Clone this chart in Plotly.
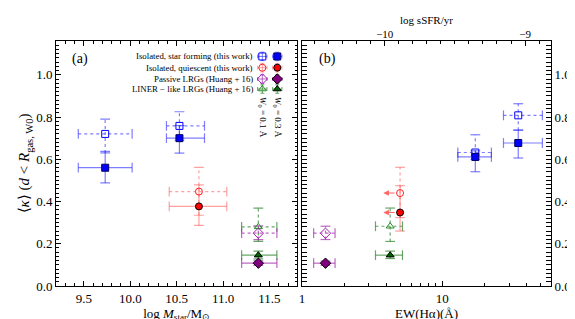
import numpy as np
import plotly.graph_objects as go

# ---------------- data ----------------
# Panel (a): log Mstar
sf_mass = [9.73, 10.53]
sf_mass_lo = [9.44, 10.39]
sf_mass_hi = [10.02, 10.80]
sf_k01 = [0.72, 0.758]
sf_k01_lo = [0.63, 0.69]
sf_k01_hi = [0.79, 0.825]
sf_k03 = [0.56, 0.70]
sf_k03_lo = [0.488, 0.629]
sf_k03_hi = [0.637, 0.76]

q_mass = [10.74]
q_mass_lo = [10.42]
q_mass_hi = [11.04]
q_k01 = [0.447]
q_k01_lo = [0.335]
q_k01_hi = [0.562]
q_k03 = [0.377]
q_k03_lo = [0.287]
q_k03_hi = [0.479]

pas_mass = [11.38]
pas_mass_lo = [11.20]
pas_mass_hi = [11.58]
pas_k01 = [0.25]
pas_k01_lo = [0.22]
pas_k01_hi = [0.285]
pas_k03 = [0.108]
pas_k03_lo = [0.097]
pas_k03_hi = [0.119]

lin_mass = [11.38]
lin_mass_lo = [11.20]
lin_mass_hi = [11.58]
lin_k01 = [0.28]
lin_k01_lo = [0.211]
lin_k01_hi = [0.369]
lin_k03 = [0.146]
lin_k03_lo = [0.128]
lin_k03_hi = [0.165]

# Panel (b): EW(Halpha)
sf_ew = [17.2, 34.8]
sf_ew_lo = [12.9, 27.3]
sf_ew_hi = [22.4, 51.7]
sf_k01b = [0.632, 0.808]
sf_k01b_lo = [0.60, 0.738]
sf_k01b_hi = [0.716, 0.863]
sf_k03b = [0.611, 0.677]
sf_k03b_lo = [0.541, 0.606]
sf_k03b_hi = [0.64, 0.738]

q_ew = [5.0]
q_ew_limit = [3.8]
q_k01b = [0.44]
q_k01b_lo = [0.324]
q_k01b_hi = [0.562]
q_k03b = [0.348]
q_k03b_lo = [0.26]
q_k03b_hi = [0.475]

pas_ew = [1.47]
pas_ew_lo = [1.21]
pas_ew_hi = [1.72]
pas_k01b = [0.25]
pas_k01b_lo = [0.22]
pas_k01b_hi = [0.283]
pas_k03b = [0.108]
pas_k03b_lo = [0.098]
pas_k03b_hi = [0.118]

lin_ew = [4.25]
lin_ew_lo = [3.34]
lin_ew_hi = [5.2]
lin_k01b = [0.283]
lin_k01b_lo = [0.211]
lin_k01b_hi = [0.369]
lin_k03b = [0.146]
lin_k03b_lo = [0.13]
lin_k03b_hi = [0.165]

legend_labels = ["Isolated, star forming (this work)",
                 "Isolated, quiescent (this work)",
                 "Passive LRGs (Huang + 16)",
                 "LINER − like LRGs (Huang + 16)"]

FONT = "Liberation Serif"
BLUE_E = "rgba(40,40,255,0.6)"
RED_E = "rgba(255,70,70,0.5)"
GRN_E = "rgba(40,130,40,0.7)"
PUR_E = "rgba(160,40,170,0.7)"

XA_RANGE = [9.2, 11.8]
Y_RANGE = [0, 1.16]

fig = go.Figure()


def errbars(x, y, xlo, xhi, ylo, yhi, xa, ya, color, dash):
    if xlo is not None:
        xs, ys = [], []
        for i in range(len(x)):
            xs += [xlo[i], xhi[i], None]
            ys += [y[i], y[i], None]
        fig.add_trace(go.Scatter(x=xs, y=ys, mode="lines", xaxis=xa, yaxis=ya,
                                 line=dict(color=color, width=1.2, dash=dash),
                                 showlegend=False, hoverinfo="skip"))
        fig.add_trace(go.Scatter(x=list(xlo) + list(xhi), y=list(y) + list(y), mode="markers",
                                 xaxis=xa, yaxis=ya,
                                 marker=dict(symbol="line-ns", size=7, color=color,
                                             line=dict(color=color, width=1.2)),
                                 showlegend=False, hoverinfo="skip"))
    xs, ys = [], []
    for i in range(len(x)):
        xs += [x[i], x[i], None]
        ys += [ylo[i], yhi[i], None]
    fig.add_trace(go.Scatter(x=xs, y=ys, mode="lines", xaxis=xa, yaxis=ya,
                             line=dict(color=color, width=1.2, dash=dash),
                             showlegend=False, hoverinfo="skip"))
    fig.add_trace(go.Scatter(x=list(x) + list(x), y=list(ylo) + list(yhi), mode="markers",
                             xaxis=xa, yaxis=ya,
                             marker=dict(symbol="line-ew", size=7, color=color,
                                         line=dict(color=color, width=1.2)),
                             showlegend=False, hoverinfo="skip"))


def pts(x, y, xa, ya, symbol, size, fill, edge):
    fig.add_trace(go.Scatter(x=x, y=y, mode="markers", xaxis=xa, yaxis=ya,
                             marker=dict(symbol=symbol, size=size, color=fill,
                                         line=dict(color=edge, width=1)),
                             showlegend=False, hoverinfo="skip"))


# ---- panel (a) ----
groups_a = [
    (sf_mass, sf_mass_lo, sf_mass_hi, sf_k01, sf_k01_lo, sf_k01_hi, sf_k03, sf_k03_lo, sf_k03_hi,
     BLUE_E, "square", "#0000ff", "#000060", 7),
    (q_mass, q_mass_lo, q_mass_hi, q_k01, q_k01_lo, q_k01_hi, q_k03, q_k03_lo, q_k03_hi,
     RED_E, "circle", "#ff0000", "#000000", 7),
    (lin_mass, lin_mass_lo, lin_mass_hi, lin_k01, lin_k01_lo, lin_k01_hi, lin_k03, lin_k03_lo, lin_k03_hi,
     GRN_E, "triangle-up", "#006400", "#000000", 7),
    (pas_mass, pas_mass_lo, pas_mass_hi, pas_k01, pas_k01_lo, pas_k01_hi, pas_k03, pas_k03_lo, pas_k03_hi,
     PUR_E, "diamond", "#800080", "#000000", 8),
]
open_cols = {"square": "#0000ff", "circle": "#ff2020", "triangle-up": "#2a8a2a", "diamond": "#a020b0"}
for (x, xl, xh, k1, k1l, k1h, k3, k3l, k3h, ec, sym, fill, edge, sz) in groups_a:
    errbars(x, k1, xl, xh, k1l, k1h, "x", "y", ec, "dot")
    errbars(x, k3, xl, xh, k3l, k3h, "x", "y", ec, "solid")
for (x, xl, xh, k1, k1l, k1h, k3, k3l, k3h, ec, sym, fill, edge, sz) in groups_a:
    pts(x, k1, "x", "y", sym + "-open", sz, open_cols[sym], open_cols[sym])
    pts(x, k3, "x", "y", sym, sz, fill, edge)

# ---- panel (b) ----
groups_b = [
    (sf_ew, sf_ew_lo, sf_ew_hi, sf_k01b, sf_k01b_lo, sf_k01b_hi, sf_k03b, sf_k03b_lo, sf_k03b_hi,
     BLUE_E, "square", "#0000ff", "#000060", 7),
    (q_ew, None, None, q_k01b, q_k01b_lo, q_k01b_hi, q_k03b, q_k03b_lo, q_k03b_hi,
     RED_E, "circle", "#ff0000", "#000000", 7),
    (lin_ew, lin_ew_lo, lin_ew_hi, lin_k01b, lin_k01b_lo, lin_k01b_hi, lin_k03b, lin_k03b_lo, lin_k03b_hi,
     GRN_E, "triangle-up", "#006400", "#000000", 7),
    (pas_ew, pas_ew_lo, pas_ew_hi, pas_k01b, pas_k01b_lo, pas_k01b_hi, pas_k03b, pas_k03b_lo, pas_k03b_hi,
     PUR_E, "diamond", "#800080", "#000000", 8),
]
for (x, xl, xh, k1, k1l, k1h, k3, k3l, k3h, ec, sym, fill, edge, sz) in groups_b:
    errbars(x, k1, xl, xh, k1l, k1h, "x2", "y2", ec, "dot")
    errbars(x, k3, xl, xh, k3l, k3h, "x2", "y2", ec, "solid")
for (x, xl, xh, k1, k1l, k1h, k3, k3l, k3h, ec, sym, fill, edge, sz) in groups_b:
    pts(x, k1, "x2", "y2", sym + "-open", sz, open_cols[sym], open_cols[sym])
    pts(x, k3, "x2", "y2", sym, sz, fill, edge)

annotations = []
# upper-limit arrows for quiescent EW
for i in range(len(q_ew)):
    for yy in (q_k01b[i], q_k03b[i]):
        annotations.append(dict(x=np.log10(q_ew_limit[i]), y=yy, xref="x2", yref="y2",
                                ax=np.log10(q_ew[i]), ay=yy, axref="x2", ayref="y2",
                                text="", showarrow=True, arrowhead=2, arrowsize=1.0,
                                arrowwidth=1.1, arrowcolor="rgba(255,50,50,0.75)",
                                standoff=0, startstandoff=4))

# ---- legend: positions given as fractions of panel (a), mapped through its ranges ----
def fx(f):
    return XA_RANGE[0] + f * (XA_RANGE[1] - XA_RANGE[0])


def fy(f):
    return Y_RANGE[0] + f * (Y_RANGE[1] - Y_RANGE[0])


leg_x_open = 0.855
leg_x_fill = 0.917
leg_y = [0.937, 0.891, 0.845, 0.804]
leg_sym = ["square", "circle", "diamond", "triangle-up"]
leg_fill = ["#0000ff", "#ff0000", "#800080", "#006400"]
leg_edge = ["#000060", "#000000", "#000000", "#000000"]
leg_ecol = [BLUE_E, RED_E, PUR_E, GRN_E]
leg_open = ["#0000ff", "#ff2020", "#a020b0", "#2a8a2a"]
for i in range(4):
    for xx, filled in ((leg_x_open, False), (leg_x_fill, True)):
        fig.add_trace(go.Scatter(
            x=[fx(xx)], y=[fy(leg_y[i])], mode="markers", xaxis="x", yaxis="y",
            error_x=dict(type="constant", value=0.05, color=leg_ecol[i], thickness=1, width=2),
            error_y=dict(type="constant", value=0.02, color=leg_ecol[i], thickness=1, width=2),
            marker=dict(symbol=leg_sym[i] if filled else leg_sym[i] + "-open",
                        size=8 if leg_sym[i] == "diamond" else 7,
                        color=leg_fill[i] if filled else leg_open[i],
                        line=dict(color=leg_edge[i] if filled else leg_open[i], width=1)),
            showlegend=False, hoverinfo="skip"))
    annotations.append(dict(x=0.826, y=leg_y[i], xref="x domain", yref="y domain", text=legend_labels[i],
                            showarrow=False, xanchor="right", yanchor="middle",
                            font=dict(family=FONT, size=8.8, color="black")))

annotations.append(dict(x=leg_x_open, y=0.78, xref="x domain", yref="y domain",
                        text="<i>W</i><sub>0</sub> = 0.1 Å", textangle=90, showarrow=False,
                        xanchor="center", yanchor="top", font=dict(family=FONT, size=9, color="black")))
annotations.append(dict(x=leg_x_fill, y=0.78, xref="x domain", yref="y domain",
                        text="<i>W</i><sub>0</sub> = 0.3 Å", textangle=90, showarrow=False,
                        xanchor="center", yanchor="top", font=dict(family=FONT, size=9, color="black")))

# panel labels
annotations.append(dict(x=0.06, y=0.925, xref="x domain", yref="y domain", text="(a)", showarrow=False,
                        xanchor="left", yanchor="middle", font=dict(family=FONT, size=14, color="black")))
annotations.append(dict(x=0.06, y=0.925, xref="x2 domain", yref="y2 domain", text="(b)", showarrow=False,
                        xanchor="left", yanchor="middle", font=dict(family=FONT, size=14, color="black")))

axis_common = dict(showline=True, linecolor="black", linewidth=1, ticks="inside", ticklen=5,
                   tickcolor="black", tickwidth=1, showgrid=False, zeroline=False,
                   tickfont=dict(family=FONT, size=13, color="black"))

dom_a = [0.0, 0.4875]
dom_b = [0.497, 1.0]
log_ssfr_offset = 10.59
ew_range = [0.0, 1.775]
minor_log = [2, 3, 4, 5, 6, 7, 8, 9, 20, 30, 40, 50]

fig.update_layout(
    width=575, height=319,
    margin=dict(l=48, r=26, t=29, b=35),
    paper_bgcolor="white", plot_bgcolor="white",
    font=dict(family=FONT, color="black"),
    showlegend=False,
    xaxis=dict(domain=dom_a, range=XA_RANGE, anchor="y", mirror="allticks",
               tickvals=[9.5, 10.0, 10.5, 11.0, 11.5], ticktext=["9.5", "10.0", "10.5", "11.0", "11.5"],
               minor=dict(dtick=0.1, tick0=0, ticks="inside", ticklen=3, tickcolor="black", showgrid=False),
               title=dict(text="log <i>M</i><sub>star</sub>/M<sub>⊙</sub>", font=dict(family=FONT, size=13),
                          standoff=0),
               **axis_common),
    yaxis=dict(domain=[0, 1], range=Y_RANGE, anchor="x", mirror="allticks",
               tickvals=[0.0, 0.2, 0.4, 0.6, 0.8, 1.0], ticktext=["0.0", "0.2", "0.4", "0.6", "0.8", "1.0"],
               minor=dict(dtick=0.02, tick0=0, ticks="inside", ticklen=2.5, tickcolor="black", showgrid=False),
               title=dict(text="⟨<i>κ</i>⟩ (<i>d</i> < <i>R</i><sub>gas, W0</sub>)",
                          font=dict(family=FONT, size=15), standoff=2),
               **axis_common),
    xaxis2=dict(domain=dom_b, type="log", range=ew_range, anchor="y2", mirror=True,
                tickvals=[1, 10], ticktext=["1", "10"],
                minor=dict(tickvals=minor_log, ticks="inside", ticklen=3, tickcolor="black", showgrid=False),
                title=dict(text="EW(Hα)(Å)", font=dict(family=FONT, size=13), standoff=0),
                **axis_common),
    yaxis2=dict(domain=[0, 1], range=Y_RANGE, anchor="x2", side="right", mirror="allticks",
                tickvals=[0.0, 0.2, 0.4, 0.6, 0.8, 1.0], ticktext=["0.0", "0.2", "0.4", "0.6", "0.8", "1.0"],
                minor=dict(dtick=0.02, tick0=0, ticks="inside", ticklen=2.5, tickcolor="black", showgrid=False),
                **axis_common),
    xaxis3=dict(overlaying="x2", side="top", anchor="y2", domain=dom_b,
                range=[ew_range[0] - log_ssfr_offset, ew_range[1] - log_ssfr_offset],
                tickvals=[-10, -9], ticktext=["−10", "−9"],
                minor=dict(dtick=0.1, tick0=0, ticks="inside", ticklen=3, tickcolor="black", showgrid=False),
                title=dict(text="log sSFR/yr", font=dict(family=FONT, size=11), standoff=0),
                showline=False, ticks="inside", ticklen=5, tickcolor="black", showgrid=False,
                zeroline=False, tickfont=dict(family=FONT, size=11, color="black")),
    annotations=annotations,
)

# invisible trace so the top axis is drawn
fig.add_trace(go.Scatter(x=[-10], y=[None], xaxis="x3", yaxis="y2", mode="markers",
                         showlegend=False, hoverinfo="skip"))

fig.write_html("out.html")
